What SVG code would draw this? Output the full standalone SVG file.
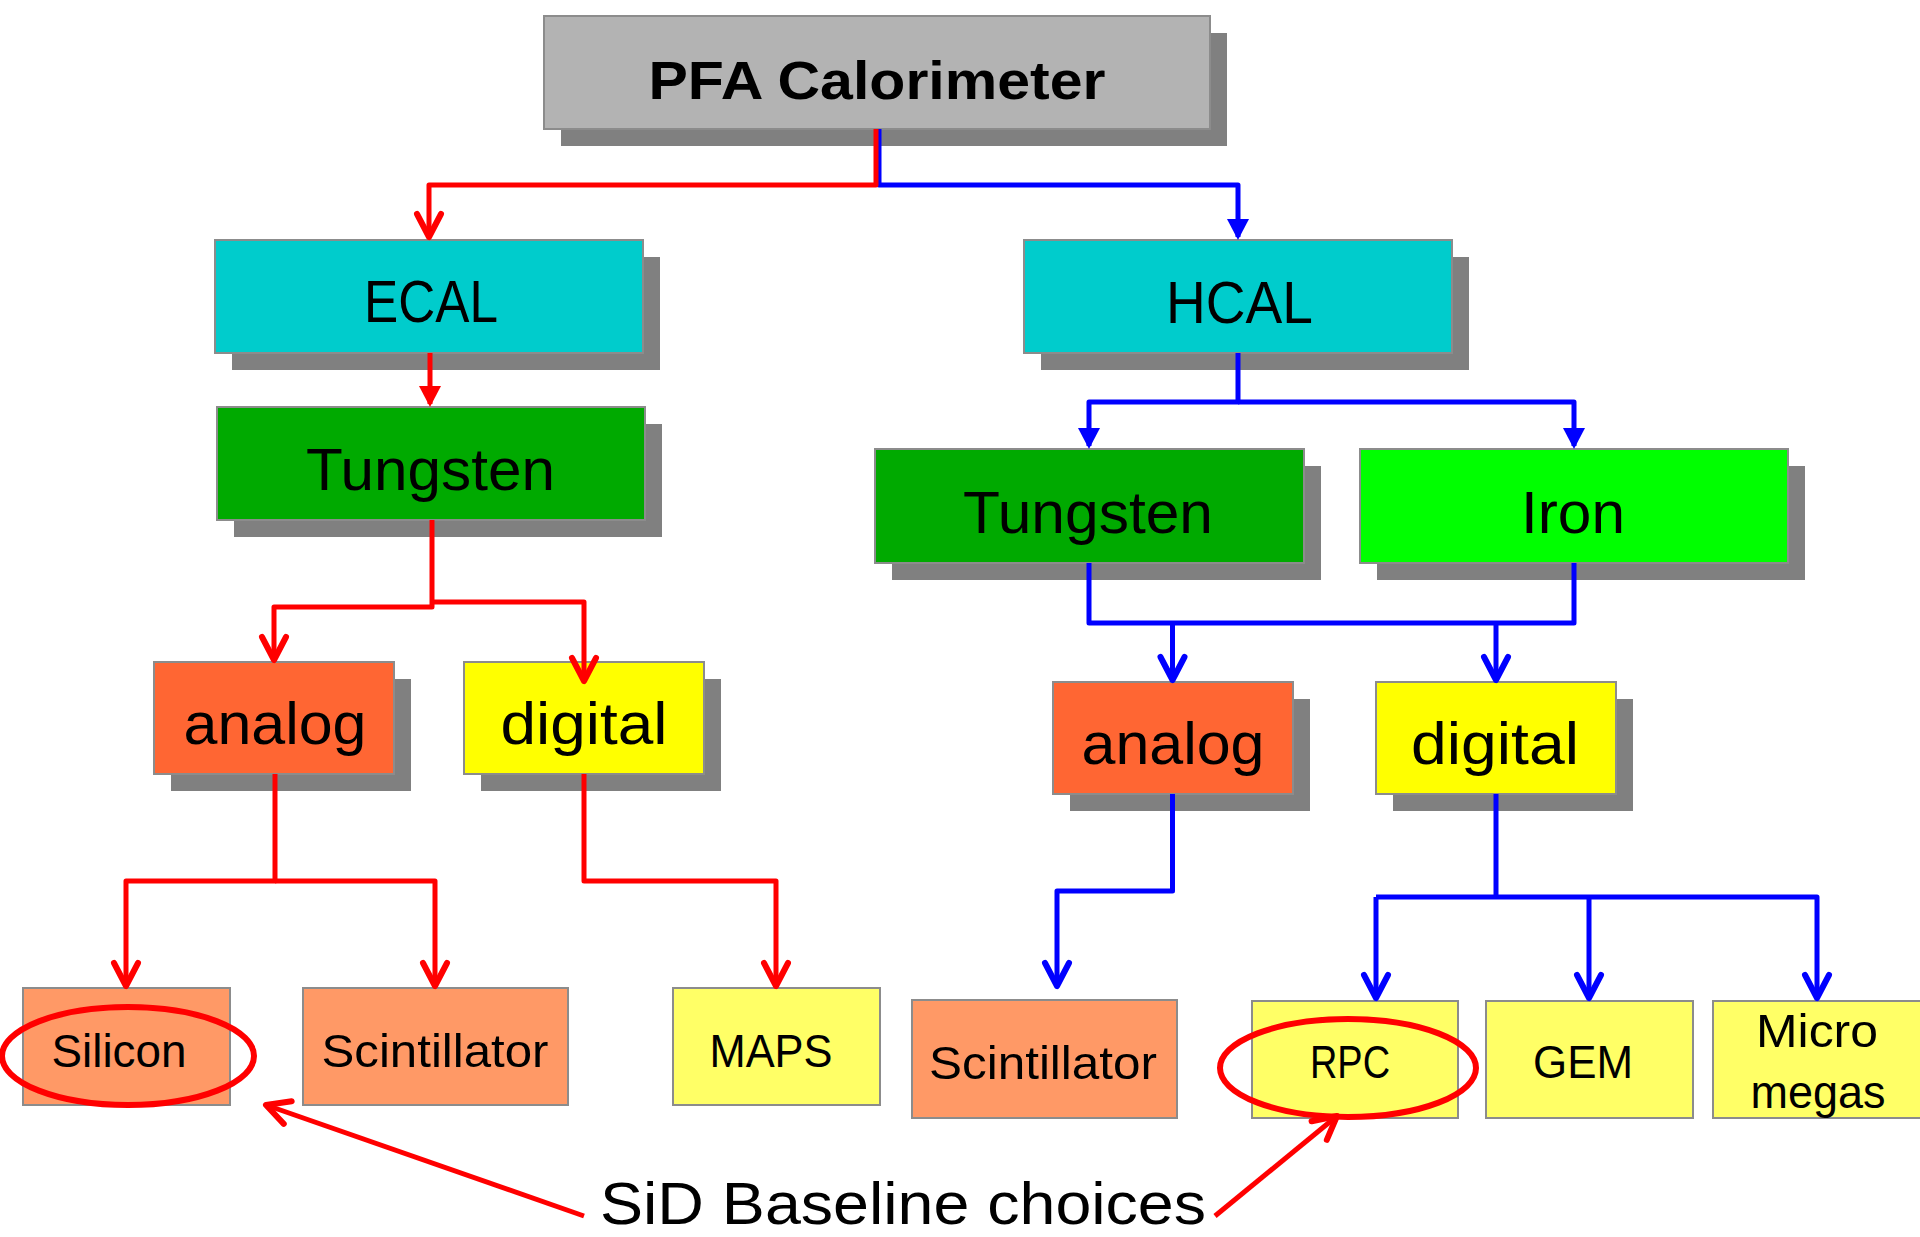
<svg xmlns="http://www.w3.org/2000/svg" width="1920" height="1237" viewBox="0 0 1920 1237">
<style>
.box{stroke:#8c8c8c;stroke-width:2}
.sh{fill:#808080}
.t{font-family:"Liberation Sans",Arial,sans-serif;fill:#000;text-anchor:middle}
.big{font-size:60px}
.sm{font-size:47px}
.r{stroke:#ff0000;stroke-width:5;fill:none;stroke-linejoin:round}
.b{stroke:#0000ff;stroke-width:5;fill:none;stroke-linejoin:round}
</style>
<defs>
<marker id="vr" markerUnits="userSpaceOnUse" orient="auto" overflow="visible" markerWidth="1" markerHeight="1">
<path d="M -23 -12 L 0 0 L -23 12" fill="none" stroke="#ff0000" stroke-width="6" stroke-linecap="round" stroke-linejoin="round"/>
</marker>
<marker id="vb" markerUnits="userSpaceOnUse" orient="auto" overflow="visible" markerWidth="1" markerHeight="1">
<path d="M -23 -12 L 0 0 L -23 12" fill="none" stroke="#0000ff" stroke-width="6" stroke-linecap="round" stroke-linejoin="round"/>
</marker>
<marker id="fr" markerUnits="userSpaceOnUse" orient="auto" overflow="visible" markerWidth="1" markerHeight="1">
<path d="M -18 -11 L 3 0 L -18 11 Z" fill="#ff0000"/>
</marker>
<marker id="fb" markerUnits="userSpaceOnUse" orient="auto" overflow="visible" markerWidth="1" markerHeight="1">
<path d="M -18 -11 L 3 0 L -18 11 Z" fill="#0000ff"/>
</marker>
</defs>
<rect width="1920" height="1237" fill="#ffffff"/>

<g id="pfa">
<rect class="sh" x="561" y="33" width="666" height="113"/>
<rect class="box" x="544" y="16" width="666" height="113" fill="#b3b3b3"/>
<text class="t" x="877" y="99" font-size="54" font-weight="bold" textLength="457" lengthAdjust="spacingAndGlyphs">PFA Calorimeter</text>
</g>

<g id="ecal">
<rect class="sh" x="232" y="257" width="428" height="113"/>
<rect class="box" x="215" y="240" width="428" height="113" fill="#00cccc"/>
<text class="t big" x="431" y="322" textLength="134" lengthAdjust="spacingAndGlyphs">ECAL</text>
</g>

<g id="hcal">
<rect class="sh" x="1041" y="257" width="428" height="113"/>
<rect class="box" x="1024" y="240" width="428" height="113" fill="#00cccc"/>
<text class="t big" x="1239.5" y="323" textLength="147" lengthAdjust="spacingAndGlyphs">HCAL</text>
</g>

<g id="ecal-tungsten">
<rect class="sh" x="234" y="424" width="428" height="113"/>
<rect class="box" x="217" y="407" width="428" height="113" fill="#00aa00"/>
<text class="t big" x="430.5" y="490" textLength="249" lengthAdjust="spacingAndGlyphs">Tungsten</text>
</g>

<g id="hcal-tungsten">
<rect class="sh" x="892" y="466" width="429" height="114"/>
<rect class="box" x="875" y="449" width="429" height="114" fill="#00aa00"/>
<text class="t big" x="1088" y="533" textLength="250" lengthAdjust="spacingAndGlyphs">Tungsten</text>
</g>

<g id="iron">
<rect class="sh" x="1377" y="466" width="428" height="114"/>
<rect class="box" x="1360" y="449" width="428" height="114" fill="#00ff00"/>
<text class="t big" x="1573" y="533" textLength="104" lengthAdjust="spacingAndGlyphs">Iron</text>
</g>

<g id="ecal-analog">
<rect class="sh" x="171" y="679" width="240" height="112"/>
<rect class="box" x="154" y="662" width="240" height="112" fill="#ff6633"/>
<text class="t big" x="275" y="744" textLength="183" lengthAdjust="spacingAndGlyphs">analog</text>
</g>

<g id="ecal-digital">
<rect class="sh" x="481" y="679" width="240" height="112"/>
<rect class="box" x="464" y="662" width="240" height="112" fill="#ffff00"/>
<text class="t big" x="584" y="744" textLength="167" lengthAdjust="spacingAndGlyphs">digital</text>
</g>

<g id="hcal-analog">
<rect class="sh" x="1070" y="699" width="240" height="112"/>
<rect class="box" x="1053" y="682" width="240" height="112" fill="#ff6633"/>
<text class="t big" x="1173" y="764" textLength="183" lengthAdjust="spacingAndGlyphs">analog</text>
</g>

<g id="hcal-digital">
<rect class="sh" x="1393" y="699" width="240" height="112"/>
<rect class="box" x="1376" y="682" width="240" height="112" fill="#ffff00"/>
<text class="t big" x="1495" y="764" textLength="168" lengthAdjust="spacingAndGlyphs">digital</text>
</g>

<g id="silicon">
<rect class="box" x="23" y="988" width="207" height="117" fill="#ff9966"/>
<text class="t sm" x="119" y="1067" textLength="135" lengthAdjust="spacingAndGlyphs">Silicon</text>
</g>

<g id="ecal-scintillator">
<rect class="box" x="303" y="988" width="265" height="117" fill="#ff9966"/>
<text class="t sm" x="435" y="1067" textLength="227" lengthAdjust="spacingAndGlyphs">Scintillator</text>
</g>

<g id="maps">
<rect class="box" x="673" y="988" width="207" height="117" fill="#ffff66"/>
<text class="t sm" x="771" y="1067" textLength="123" lengthAdjust="spacingAndGlyphs">MAPS</text>
</g>

<g id="hcal-scintillator">
<rect class="box" x="912" y="1000" width="265" height="118" fill="#ff9966"/>
<text class="t sm" x="1043" y="1079" textLength="228" lengthAdjust="spacingAndGlyphs">Scintillator</text>
</g>

<g id="rpc">
<rect class="box" x="1252" y="1001" width="206" height="117" fill="#ffff66"/>
<text class="t sm" x="1350" y="1078" textLength="80" lengthAdjust="spacingAndGlyphs">RPC</text>
</g>

<g id="gem">
<rect class="box" x="1486" y="1001" width="207" height="117" fill="#ffff66"/>
<text class="t sm" x="1583" y="1078" textLength="100" lengthAdjust="spacingAndGlyphs">GEM</text>
</g>

<g id="micromegas">
<rect class="box" x="1713" y="1001" width="210" height="117" fill="#ffff66"/>
<text class="t sm" x="1817" y="1047" textLength="122" lengthAdjust="spacingAndGlyphs">Micro</text>
<text class="t sm" x="1818" y="1108" textLength="135" lengthAdjust="spacingAndGlyphs">megas</text>
</g>

<g id="connectors">
<path class="b" d="M 879 129 V 185 H 1238 V 237" marker-end="url(#fb)"/>
<path class="r" d="M 876 129 V 185 H 429 V 237" marker-end="url(#vr)"/>
<path class="r" d="M 430 353 V 404" marker-end="url(#fr)"/>
<path class="r" d="M 432 520 V 607 H 274 V 660" marker-end="url(#vr)"/>
<path class="r" d="M 432 602 H 584 V 681" marker-end="url(#vr)"/>
<path class="r" d="M 275 774 V 881 H 126 V 986" marker-end="url(#vr)"/>
<path class="r" d="M 275 881 H 435 V 986" marker-end="url(#vr)"/>
<path class="r" d="M 584 774 V 881 H 776 V 986" marker-end="url(#vr)"/>
<path class="b" d="M 1238 353 V 402 H 1089 V 446" marker-end="url(#fb)"/>
<path class="b" d="M 1238 402 H 1574 V 446" marker-end="url(#fb)"/>
<path class="b" d="M 1089 563 V 623 H 1574 V 563"/>
<path class="b" d="M 1172.5 623 V 680" marker-end="url(#vb)"/>
<path class="b" d="M 1496 623 V 680" marker-end="url(#vb)"/>
<path class="b" d="M 1172.5 794 V 891 H 1057 V 986" marker-end="url(#vb)"/>
<path class="b" d="M 1496 794 V 897"/>
<path class="b" d="M 1376 897 H 1817 V 998" marker-end="url(#vb)"/>
<path class="b" d="M 1376 897 V 998" marker-end="url(#vb)"/>
<path class="b" d="M 1589 897 V 998" marker-end="url(#vb)"/>
<path class="r" d="M 584 1216 L 266 1105" stroke-width="6" marker-end="url(#vr)"/>
<path class="r" d="M 1215 1216 L 1337 1116" stroke-width="6" marker-end="url(#vr)"/>
</g>

<g id="highlights">
<ellipse cx="128" cy="1056" rx="126" ry="49" fill="none" stroke="#ff0000" stroke-width="6"/>
<ellipse cx="1348" cy="1068" rx="128" ry="49" fill="none" stroke="#ff0000" stroke-width="6"/>
</g>

<g id="sid-label">
<text class="t" x="903" y="1224" font-size="60" textLength="606" lengthAdjust="spacingAndGlyphs">SiD Baseline choices</text>
</g>
</svg>
